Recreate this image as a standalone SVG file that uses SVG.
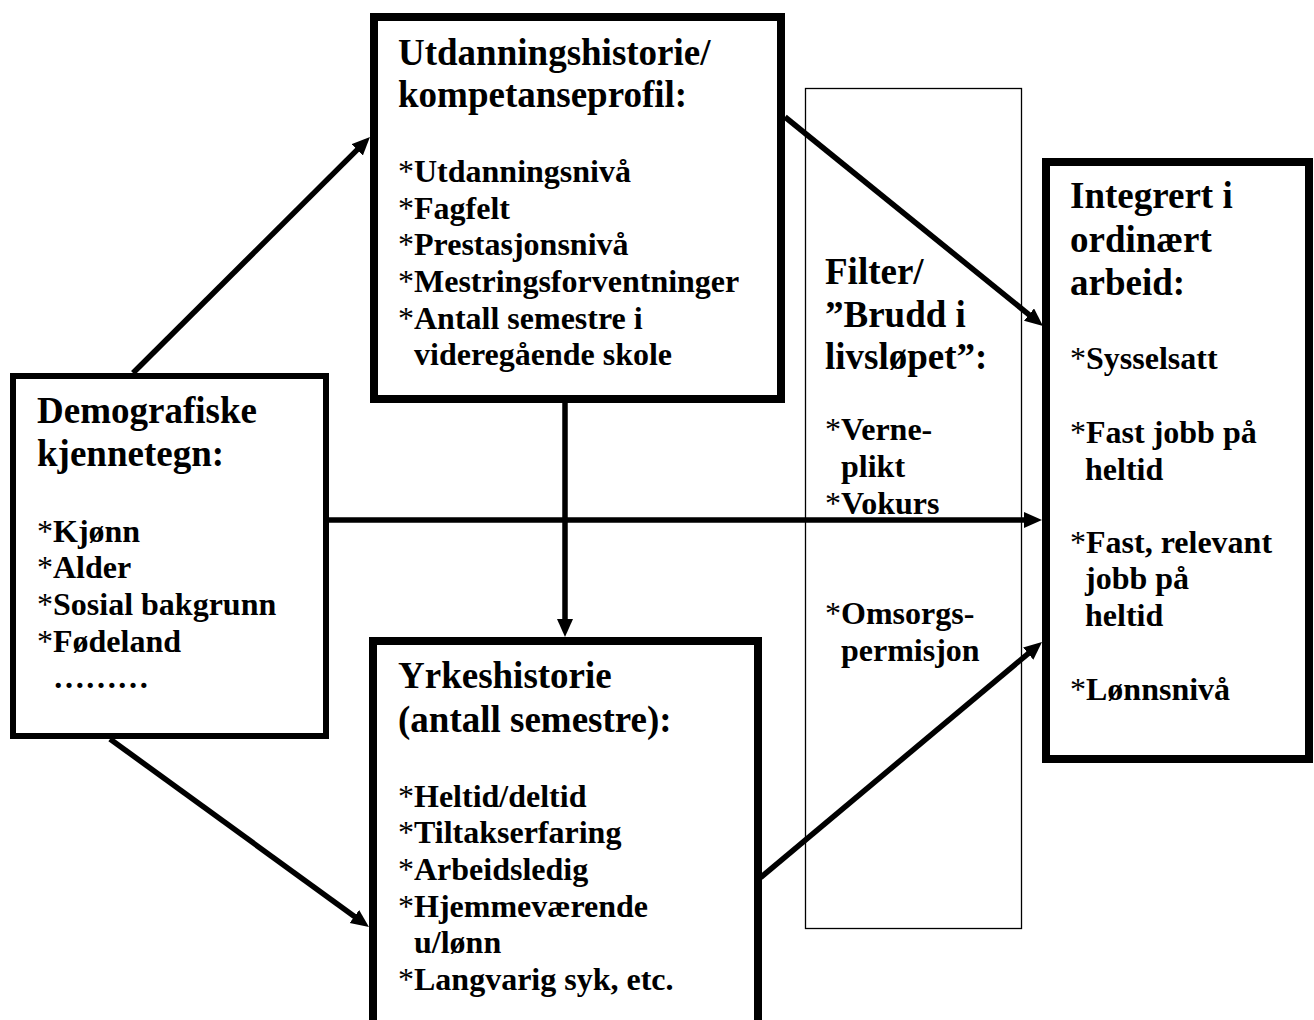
<svg xmlns="http://www.w3.org/2000/svg" width="1314" height="1020" viewBox="0 0 1314 1020">
<style>
  text { font-family: "Liberation Serif", "Times New Roman", serif; font-weight: bold; fill: #000; }
  .h { font-size: 37px; }
  .i { font-size: 32px; }
  .ast { font-weight: normal; }
  .box { fill: #fff; stroke: #000; stroke-width: 8; }
  .box6 { fill: #fff; stroke: #000; stroke-width: 6; }
  .thin { fill: none; stroke: #000; stroke-width: 1.3; }
  .conn { stroke: #000; stroke-width: 5.5; fill: none; marker-end: url(#ah); }
</style>
<defs>
  <marker id="ah" markerUnits="userSpaceOnUse" markerWidth="20" markerHeight="18" refX="9" refY="8" orient="auto">
    <path d="M0,0 L18,8 L0,16 Z" fill="#000"/>
  </marker>
</defs>
<rect width="1314" height="1020" fill="#fff"/>

<g id="filter">
  <rect class="thin" x="805.5" y="88.5" width="216" height="840"/>
  <text class="h" x="825" y="284">Filter/</text>
  <text class="h" x="825" y="327">”Brudd i</text>
  <text class="h" x="825" y="369">livsløpet”:</text>
  <text class="i" x="825" y="440"><tspan class="ast">*</tspan>Verne-</text>
  <text class="i" x="841" y="477">plikt</text>
  <text class="i" x="825" y="514"><tspan class="ast">*</tspan>Vokurs</text>
  <text class="i" x="825" y="624"><tspan class="ast">*</tspan>Omsorgs-</text>
  <text class="i" x="841" y="661">permisjon</text>
</g>

<g id="utdanning">
  <rect class="box" x="374" y="17" width="407" height="382"/>
  <text class="h" x="398" y="65">Utdanningshistorie/</text>
  <text class="h" x="398" y="107">kompetanseprofil:</text>
  <text class="i" x="398" y="182"><tspan class="ast">*</tspan>Utdanningsnivå</text>
  <text class="i" x="398" y="219"><tspan class="ast">*</tspan>Fagfelt</text>
  <text class="i" x="398" y="255"><tspan class="ast">*</tspan>Prestasjonsnivå</text>
  <text class="i" x="398" y="292"><tspan class="ast">*</tspan>Mestringsforventninger</text>
  <text class="i" x="398" y="329"><tspan class="ast">*</tspan>Antall semestre i</text>
  <text class="i" x="414" y="365">videregående skole</text>
</g>

<g id="demografiske">
  <rect class="box6" x="13" y="376" width="313" height="360"/>
  <text class="h" x="37" y="423">Demografiske</text>
  <text class="h" x="37" y="466">kjennetegn:</text>
  <text class="i" x="37" y="542"><tspan class="ast">*</tspan>Kjønn</text>
  <text class="i" x="37" y="578"><tspan class="ast">*</tspan>Alder</text>
  <text class="i" x="37" y="615"><tspan class="ast">*</tspan>Sosial bakgrunn</text>
  <text class="i" x="37" y="652"><tspan class="ast">*</tspan>Fødeland</text>
  <text class="i" x="53" y="688">………</text>
</g>

<g id="yrkeshistorie">
  <rect class="box" x="373" y="641" width="385" height="420"/>
  <text class="h" x="398" y="688">Yrkeshistorie</text>
  <text class="h" x="398" y="732">(antall semestre):</text>
  <text class="i" x="398" y="807"><tspan class="ast">*</tspan>Heltid/deltid</text>
  <text class="i" x="398" y="843"><tspan class="ast">*</tspan>Tiltakserfaring</text>
  <text class="i" x="398" y="880"><tspan class="ast">*</tspan>Arbeidsledig</text>
  <text class="i" x="398" y="917"><tspan class="ast">*</tspan>Hjemmeværende</text>
  <text class="i" x="414" y="953">u/lønn</text>
  <text class="i" x="398" y="990"><tspan class="ast">*</tspan>Langvarig syk, etc.</text>
</g>

<g id="integrert">
  <rect class="box" x="1046" y="162" width="263" height="597"/>
  <text class="h" x="1070" y="208">Integrert i</text>
  <text class="h" x="1070" y="252">ordinært</text>
  <text class="h" x="1070" y="295">arbeid:</text>
  <text class="i" x="1070" y="369"><tspan class="ast">*</tspan>Sysselsatt</text>
  <text class="i" x="1070" y="443"><tspan class="ast">*</tspan>Fast jobb på</text>
  <text class="i" x="1085" y="480">heltid</text>
  <text class="i" x="1070" y="553"><tspan class="ast">*</tspan>Fast, relevant</text>
  <text class="i" x="1085" y="589">jobb på</text>
  <text class="i" x="1085" y="626">heltid</text>
  <text class="i" x="1070" y="700"><tspan class="ast">*</tspan>Lønnsnivå</text>
</g>

<g id="connectors">
  <line class="conn" x1="133" y1="373" x2="363.6" y2="143.4"/>
  <line class="conn" x1="328" y1="520" x2="1033" y2="520"/>
  <line class="conn" x1="110" y1="739" x2="361.7" y2="921.7"/>
  <line class="conn" x1="565" y1="403" x2="565" y2="628"/>
  <line class="conn" x1="785" y1="117" x2="1036" y2="320.3"/>
  <line class="conn" x1="760" y1="878" x2="1035.1" y2="647.8"/>
</g>
</svg>
